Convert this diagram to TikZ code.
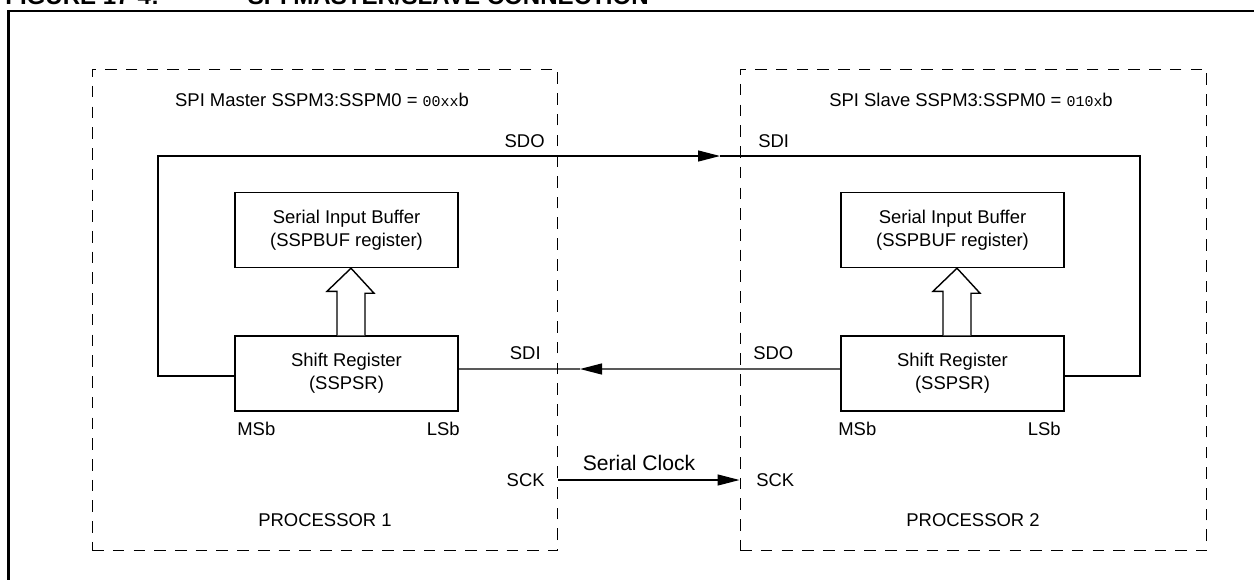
\documentclass[tikz,border=0pt]{standalone}
\usepackage{fontspec}
\setmainfont{Liberation Sans}
\setmonofont{Liberation Mono}
\usetikzlibrary{arrows.meta, positioning}

\begin{document}
\begin{tikzpicture}[
          x=0.02cm, y=-0.02cm,
          procbox/.style={rectangle, draw, line width=0.6pt, dash pattern=on 6.6pt off 5.2pt,
                      minimum width=9.32cm, minimum height=9.64cm, inner sep=0pt},
          regbox/.style={rectangle, draw, line width=0.8pt, fill=white,
                      minimum width=4.46cm, minimum height=1.5cm,
                      align=center, font=\fontsize{10.5}{13}\selectfont},
          lbl/.style={inner sep=0pt, font=\fontsize{10.5}{12}\selectfont},
          wire/.style={line width=0.7pt},
          arr/.style={wire, -{Triangle[length=0.44cm, width=0.22cm]}},
          hollow/.style={line width=0.8pt, fill=white, line join=miter}]
          \useasboundingbox (0,0) rectangle (1254,579);
          % frame and caption, cut by the page edge
          \draw[line width=1.6pt] (1260,11) -- (8.5,11) -- (8.5,590);
          \node[anchor=base west, inner sep=0pt, font=\fontsize{13.7}{16}\selectfont\bfseries] (fig) at (5,4) {FIGURE 17-4:};
          \node[anchor=base east, inner sep=0pt, font=\fontsize{13.7}{16}\selectfont\bfseries] (ttl) at (649,4) {SPI MASTER/SLAVE CONNECTION};
          % the two processors
          \node[procbox] (p1) at (325,310) {};
          \node[procbox, minimum width=9.34cm] (p2) at (973.5,310) {};
          \node[lbl] (mode1) at (322,100) {SPI Master SSPM3:SSPM0 = {\ttfamily\fontsize{8.5}{10}\selectfont 00xx}b};
          \node[lbl] (mode2) at (971,100) {SPI Slave SSPM3:SSPM0 = {\ttfamily\fontsize{8.5}{10}\selectfont 010x}b};
          \node[regbox] (buf1) at (346.5,230) {Serial Input Buffer\\(SSPBUF register)};
          \node[regbox] (sr1)  at (346.5,373.5) {Shift Register\\(SSPSR)};
          \node[regbox] (buf2) at (952.5,230) {Serial Input Buffer\\(SSPBUF register)};
          \node[regbox] (sr2)  at (952.5,373.5) {Shift Register\\(SSPSR)};
          \draw[hollow] ([xshift=-0.19cm]sr1.north) -- ++(0,-44) -- ++(-10,0) -- ([xshift=0.09cm]buf1.south)
                        -- ++(23,25) -- ++(-9,0) -- ([xshift=0.37cm]sr1.north);
          \draw[hollow] ([xshift=-0.19cm]sr2.north) -- ++(0,-44) -- ++(-10,0) -- ([xshift=0.09cm]buf2.south)
                        -- ++(23,25) -- ++(-9,0) -- ([xshift=0.37cm]sr2.north);
          % pin labels
          \node[lbl, anchor=east] (sdo1) at (545,141) {SDO};
          \node[lbl, anchor=west] (sdi2) at (758,141) {SDI};
          \node[lbl, anchor=east] (sdi1) at (541,353) {SDI};
          \node[lbl, anchor=west] (sdo2) at (753,353) {SDO};
          \node[lbl, anchor=west] (msb1) at (237,429) {MSb};
          \node[lbl, anchor=east] (lsb1) at (460,429) {LSb};
          \node[lbl, anchor=west] (msb2) at (838,429) {MSb};
          \node[lbl, anchor=east] (lsb2) at (1061,429) {LSb};
          \node[lbl, anchor=east] (sck1) at (545,480) {SCK};
          \node[lbl, anchor=west] (sck2) at (756,480) {SCK};
          \node[lbl, font=\fontsize{12}{14}\selectfont] (clk) at (639,463) {Serial Clock};
          \node[lbl] (cpu1) at (325,520) {PROCESSOR 1};
          \node[lbl] (cpu2) at (973,520) {PROCESSOR 2};
          % data lines
          \coordinate (tl) at (158,156);
          \coordinate (tr) at (1140,156);
          \coordinate (sdoTip) at (720,156);
          \coordinate (sdiTip) at (580,369);
          \draw[arr] ([yshift=-0.05cm]sr1.west) -| (tl) -- (sdoTip);
          \draw[wire] (sdoTip) -- (tr) |- ([yshift=-0.05cm]sr2.east);
          \draw[arr] ([yshift=0.09cm]sr2.west) -- (sdiTip);
          \draw[wire] (sdiTip) -- ([yshift=0.09cm]sr1.east);
          \draw[arr] (p1.east |- sck1) -- (p2.west |- sck2);
        \end{tikzpicture}
\end{document}
